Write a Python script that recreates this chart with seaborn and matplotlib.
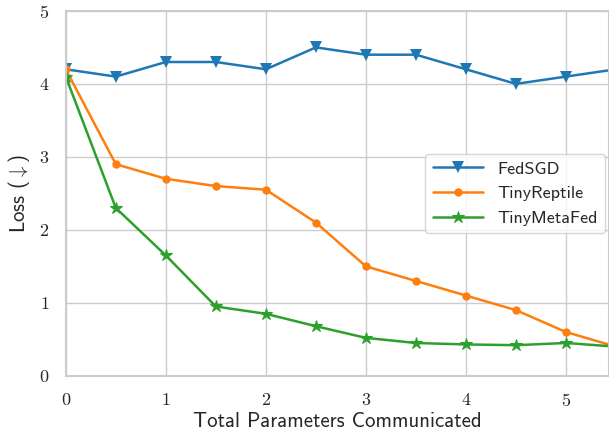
import numpy as np
import pandas as pd
import seaborn as sns
import matplotlib.pyplot as plt

# 数据：横轴为通信参数总量
x = [0, 0.5, 1, 1.5, 2, 2.5, 3, 3.5, 4, 4.5, 5, 5.5]
fedsgd = [4.2, 4.1, 4.3, 4.3, 4.2, 4.5, 4.4, 4.4, 4.2, 4.0, 4.1, 4.2]
tinyreptile = [4.2, 2.9, 2.7, 2.6, 2.55, 2.1, 1.5, 1.3, 1.1, 0.9, 0.6, 0.4]
tinymetafed = [4.1, 2.3, 1.65, 0.95, 0.85, 0.68, 0.52, 0.45, 0.43, 0.42, 0.45, 0.4]

sns.set_theme(style='whitegrid')
plt.rcParams['font.family'] = ['cmss10', 'DejaVu Sans']
plt.rcParams['axes.formatter.use_mathtext'] = True
plt.rcParams['mathtext.fontset'] = 'cm'

fig = plt.figure(figsize=(6.09, 4.36), dpi=100)
ax = fig.add_axes([0.108, 0.138, 0.892, 0.837])

sns.lineplot(x=x, y=fedsgd, label='FedSGD', marker='v', markersize=9,
             color='#1f77b4', linewidth=1.8, markeredgewidth=0, ax=ax)
sns.lineplot(x=x, y=tinyreptile, label='TinyReptile', marker='o', markersize=6,
             color='#ff7f0e', linewidth=1.8, markeredgewidth=0, ax=ax)
sns.lineplot(x=x, y=tinymetafed, label='TinyMetaFed', marker='*', markersize=9,
             color='#2ca02c', linewidth=1.8, markeredgewidth=0.8, markeredgecolor='#2ca02c', ax=ax)

ax.set_xlim(0, 5.43)
ax.set_ylim(0, 5)
ax.set_xticks([0, 1, 2, 3, 4, 5])
ax.set_yticks([0, 1, 2, 3, 4, 5])
for lab in ax.get_xticklabels() + ax.get_yticklabels():
    lab.set_family('cmr10')
    lab.set_fontsize(13)
ax.tick_params(colors='#262626', pad=6)
ax.set_xlabel('Total Parameters Communicated', fontsize=15, labelpad=2)
ax.set_ylabel(r'Loss ($\downarrow$)', fontsize=15, labelpad=5)
for s in ax.spines.values():
    s.set_color('#cccccc')
    s.set_linewidth(1.5)

ax.legend(loc='center right', fontsize=13, handlelength=2.8, borderaxespad=0.2)

plt.savefig('out.png', dpi=100)
